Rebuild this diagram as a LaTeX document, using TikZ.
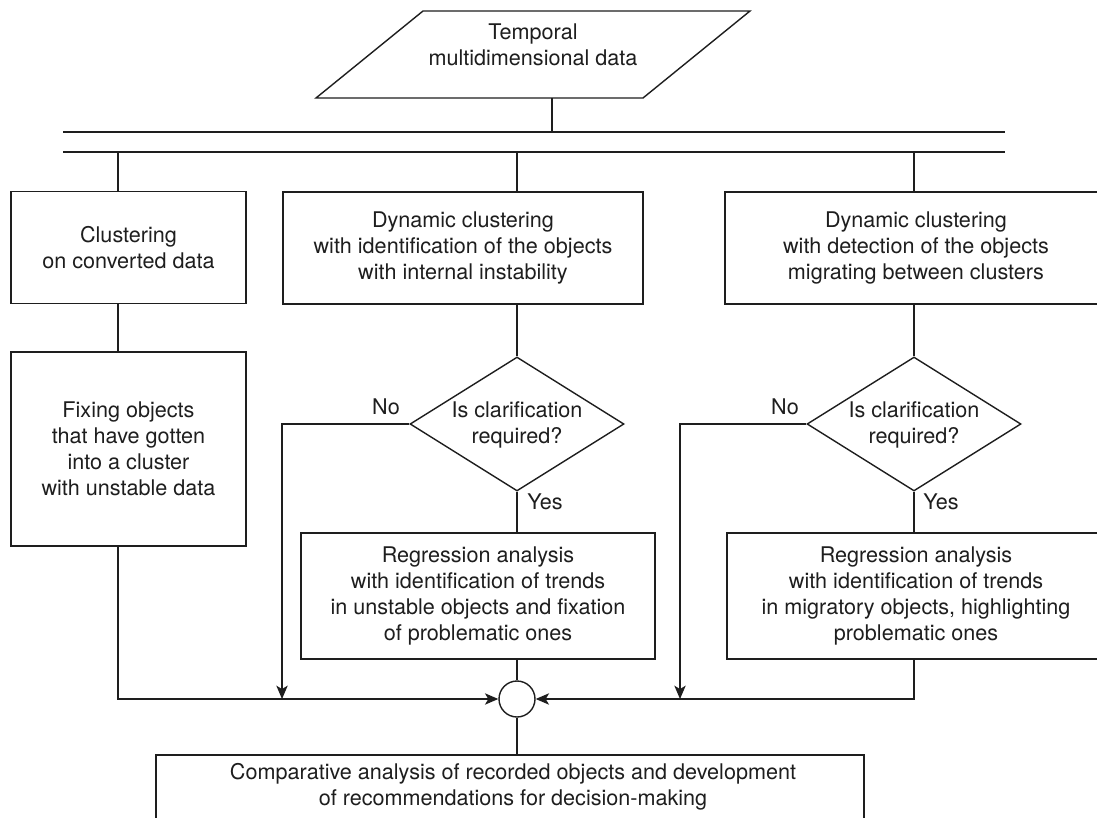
\documentclass[tikz,border=0pt]{standalone}
\usepackage{fontspec}
\setmainfont{TeX Gyre Heros}
\usetikzlibrary{shapes.geometric,arrows.meta}
\definecolor{ink}{HTML}{1E1E1E}
\begin{document}
\begin{tikzpicture}[x=0.75pt,y=-0.75pt,
  every node/.style={text=ink,font=\fontsize{16.2}{19.4}\selectfont},
  line/.style={draw=ink,line width=1.05pt},
  box/.style={draw=ink,line width=1.05pt,rectangle,inner sep=0pt,align=center},
  dia/.style={draw=ink,line width=1.05pt,diamond,inner sep=0pt,minimum width=160.5pt,minimum height=100.5pt},
  txt/.style={align=center,inner sep=0pt},
  arr/.style={line,-{Stealth[length=10pt,width=8.5pt,inset=2.5pt]}}]
\useasboundingbox (0,0) rectangle (1097,818);
\fill[white] (0,0) rectangle (1097,818);
\clip (0,0) rectangle (1097,818);

% input parallelogram
\draw[line] (316,98) -- (643,98) -- (750,11) -- (423,11) -- cycle;
\node[txt] (inp) at (533,45) {Temporal\\multidimensional data};

% bus lines
\coordinate (b1L) at (63,132); \coordinate (b1R) at (1005,132);
\coordinate (b2L) at (63,152); \coordinate (b2R) at (1005,152);
\draw[line] (b1L) -- (b1R);
\draw[line] (b2L) -- (b2R);
\coordinate (pb) at (552,98); \coordinate (pt) at (552,132);
\draw[line] (pb) -- (pt);

% column anchors
\coordinate (c1) at (118,152);
\coordinate (c2) at (517,152);
\coordinate (c3) at (914,152);

% boxes
\node[box,minimum width=176.25pt,minimum height=84pt] (box1) at (128.5,247.5) {Clustering\\on converted data};
\node[box,minimum width=270pt,minimum height=84pt] (box2) at (463,248) {Dynamic clustering\\with identification of the objects\\with internal instability};
\node[box,minimum width=286.5pt,minimum height=84pt] (box3) at (916,248) {Dynamic clustering\\with detection of the objects\\migrating between clusters};
\node[box,minimum width=176.25pt,minimum height=145.5pt] (box4) at (128.5,449) {Fixing objects\\that have gotten\\into a cluster\\with unstable data};

\node[dia] (d1) at (517,424) {};
\node[txt] (d1t) at (517,425) {Is clarification\\required?};
\node[dia] (d2) at (914,424) {};
\node[txt] (d2t) at (914,425) {Is clarification\\required?};

\node[box,minimum width=265.5pt,minimum height=94.5pt] (box5) at (478,596) {Regression analysis\\with identification of trends\\in unstable objects and fixation\\of problematic ones};
\node[box,minimum width=283.5pt,minimum height=94.5pt] (box6) at (916,596) {Regression analysis\\with identification of trends\\in migratory objects, highlighting\\problematic ones};

\node[draw=ink,line width=1.05pt,circle,minimum size=27pt,inner sep=0pt] (m) at (517,699) {};

\node[box,minimum width=531pt,minimum height=63.75pt] (fin) at (510,797.5) {};
\node[txt] (fint) at (513,787) {Comparative analysis of recorded objects and development\\of recommendations for decision-making};

% labels
\node[txt] (no1) at (386,407) {No};
\node[txt] (no2) at (785,407) {No};
\node[txt] (yes1) at (545,502) {Yes};
\node[txt] (yes2) at (941,502) {Yes};

% connectors
\draw[line] (c1) -- (c1 |- box1.north);
\draw[line] (c2) -- (c2 |- box2.north);
\draw[line] (c3) -- (c3 |- box3.north);
\draw[line] (c1 |- box1.south) -- (c1 |- box4.north);
\draw[line] (c2 |- box2.south) -- (d1.north);
\draw[line] (c3 |- box3.south) -- (d2.north);
\draw[line] (d1.south) -- (d1.south |- box5.north);
\draw[line] (d2.south) -- (d2.south |- box6.north);

\coordinate (n1) at (282,699);
\coordinate (n2) at (680,699);
\draw[arr] (d1.west) -| (n1);
\draw[arr] (d2.west) -| (n2);

\draw[arr] (c1 |- box4.south) |- (m.west);
\draw[arr] (c3 |- box6.south) |- (m.east);
\draw[line] (c2 |- box5.south) -- (m.north);
\draw[line] (m.south) -- (m.south |- fin.north);
\end{tikzpicture}
\end{document}
